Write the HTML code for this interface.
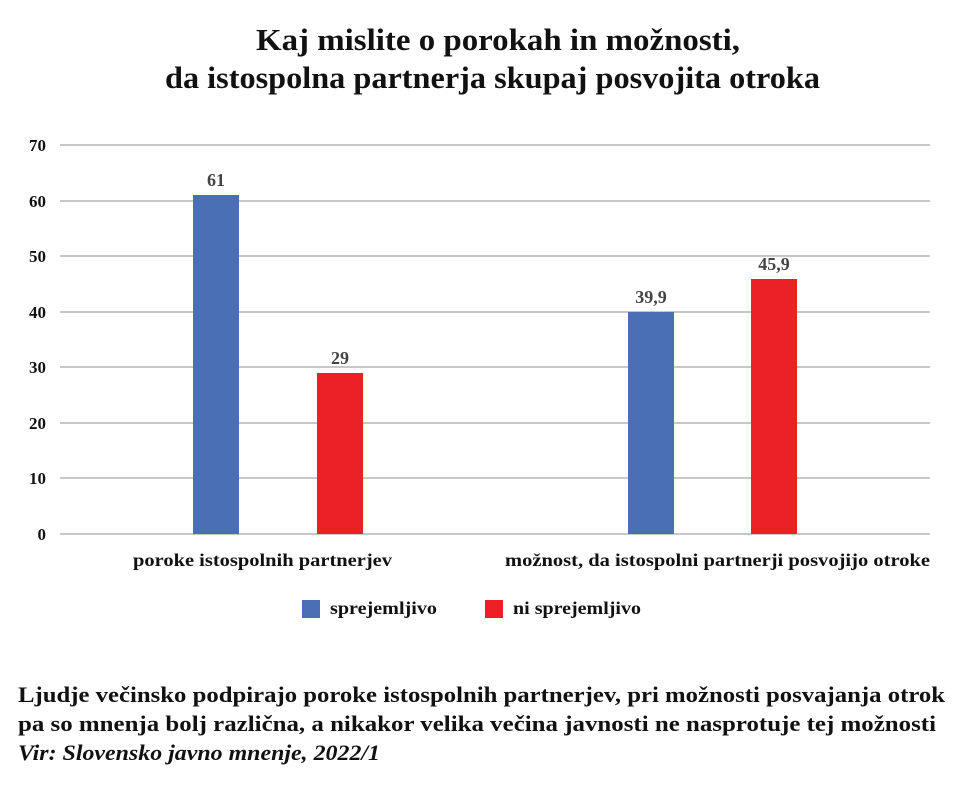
<!DOCTYPE html>
<html><head><meta charset="utf-8"><style>
html,body{margin:0;padding:0;background:#fff;}
</style></head><body>
<svg width="959" height="783" xmlns="http://www.w3.org/2000/svg" font-family="'Liberation Serif',serif" font-weight="bold">
<rect width="959" height="783" fill="#fff"/>
<text x="256" y="50" font-size="31" fill="#111" textLength="484" lengthAdjust="spacingAndGlyphs">Kaj mislite o porokah in možnosti,</text>
<text x="165" y="88" font-size="31" fill="#111" textLength="655" lengthAdjust="spacingAndGlyphs">da istospolna partnerja skupaj posvojita otroka</text>
<g stroke="#c8c8c8" stroke-width="2">
<line x1="60" x2="930" y1="145" y2="145"/>
<line x1="60" x2="930" y1="201" y2="201"/>
<line x1="60" x2="930" y1="256" y2="256"/>
<line x1="60" x2="930" y1="312" y2="312"/>
<line x1="60" x2="930" y1="367" y2="367"/>
<line x1="60" x2="930" y1="423" y2="423"/>
<line x1="60" x2="930" y1="478" y2="478"/>
<line x1="60" x2="930" y1="534" y2="534"/>
</g>
<g font-size="17" fill="#111" text-anchor="end">
<text x="46" y="151">70</text><text x="46" y="207">60</text><text x="46" y="262">50</text>
<text x="46" y="318">40</text><text x="46" y="373">30</text><text x="46" y="429">20</text>
<text x="46" y="484">10</text><text x="46" y="540">0</text>
</g>
<rect x="193" y="195" width="46" height="339" fill="#4a6fb5"/>
<rect x="317" y="373" width="46" height="161" fill="#ec2127"/>
<rect x="628" y="312" width="46" height="222" fill="#4a6fb5"/>
<rect x="751" y="279" width="46" height="255" fill="#ec2127"/>
<g font-size="18" fill="#444" text-anchor="middle">
<text x="216" y="186">61</text><text x="340" y="364">29</text>
<text x="651" y="303">39,9</text><text x="774" y="270">45,9</text>
</g>
<g font-size="18" fill="#111">
<text x="133" y="566" textLength="259" lengthAdjust="spacingAndGlyphs">poroke  istospolnih partnerjev</text>
<text x="505" y="566" textLength="425" lengthAdjust="spacingAndGlyphs">možnost, da istospolni partnerji posvojijo otroke</text>
</g>
<rect x="302" y="600" width="18" height="18" fill="#4a6fb5"/>
<text x="330" y="614" font-size="18" fill="#111" textLength="107" lengthAdjust="spacingAndGlyphs">sprejemljivo</text>
<rect x="485" y="600" width="18" height="18" fill="#ec2127"/>
<text x="513" y="614" font-size="18" fill="#111" textLength="128" lengthAdjust="spacingAndGlyphs">ni sprejemljivo</text>
<g font-size="22.5" fill="#111">
<text x="18" y="702" textLength="927" lengthAdjust="spacingAndGlyphs">Ljudje večinsko podpirajo poroke istospolnih partnerjev, pri možnosti posvajanja otrok</text>
<text x="18" y="731" textLength="918" lengthAdjust="spacingAndGlyphs">pa so mnenja bolj različna, a nikakor velika večina javnosti ne nasprotuje tej možnosti</text>
<text x="18" y="760" font-style="italic" textLength="362" lengthAdjust="spacingAndGlyphs">Vir: Slovensko javno mnenje, 2022/1</text>
</g>
</svg>
</body></html>
